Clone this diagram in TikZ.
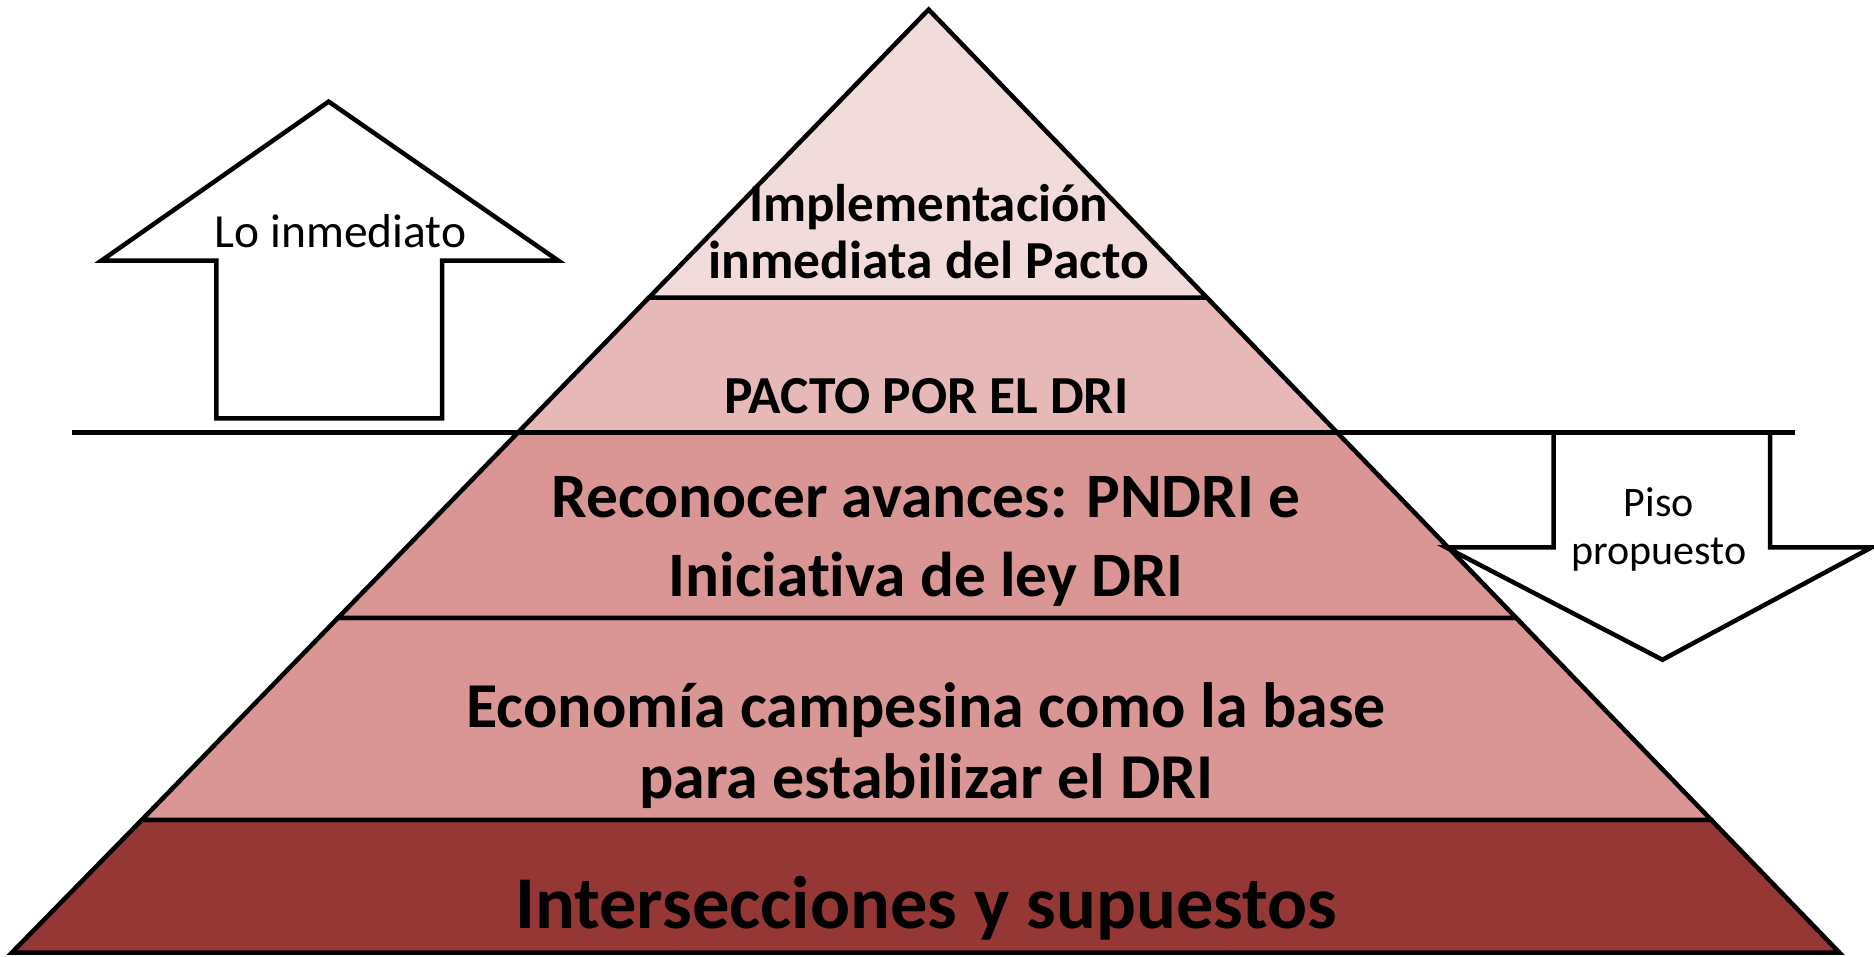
\documentclass[tikz,border=0pt]{standalone}
\usepackage{fontspec}
\setmainfont{Carlito}[Ligatures=NoCommon]
\definecolor{tierA}{HTML}{F2DCDB}
\definecolor{tierB}{HTML}{E6B9B8}
\definecolor{tierC}{HTML}{D99694}
\definecolor{tierD}{HTML}{953735}
\begin{document}
\begin{tikzpicture}[x=1.1952pt,y=-1.1952pt,line join=miter,
  tier/.style={draw=black,line width=4.5pt},
  outl/.style={draw=black,line width=4.5pt,fill=white},
  lbl/.style={anchor=base,inner sep=0pt,font=\bfseries},
  plain/.style={anchor=base,inner sep=0pt}]
\useasboundingbox (0,0) rectangle (1568,800);
% pyramid corner coordinates
\coordinate (apex) at (777,8);
\coordinate (l1) at (543.0,249); \coordinate (r1) at (1009.8,249);
\coordinate (l2) at (433.3,362); \coordinate (r2) at (1118.9,362);
\coordinate (l3) at (282.8,517); \coordinate (r3) at (1268.6,517);
\coordinate (l4) at (118.7,686); \coordinate (r4) at (1431.8,686);
\coordinate (l5) at (10,797);    \coordinate (r5) at (1539,797);
% tiers
\draw[tier,fill=tierD] (l4) -- (r4) -- (r5) -- (l5) -- cycle;
\draw[tier,fill=tierC] (l3) -- (r3) -- (r4) -- (l4) -- cycle;
\draw[tier,fill=tierC] (l2) -- (r2) -- (r3) -- (l3) -- cycle;
\draw[tier,fill=tierB] (l1) -- (r1) -- (r2) -- (l2) -- cycle;
\draw[tier,fill=tierA] (apex) -- (r1) -- (l1) -- cycle;
% floor line
\coordinate (fl) at (60,362); \coordinate (fr) at (1502,362);
\draw[line width=4.5pt] (fl) -- (fr);
% up arrow
\draw[outl] (275,85) -- (467,218) -- (370,218) -- (370,350) -- (181,350) -- (181,218) -- (85,218) -- cycle;
% down arrow
\draw[outl] (1300,362) -- (1300,458) -- (1210,458) -- (1391,552) -- (1566,458) -- (1481,458) -- (1481,362) -- cycle;
% texts
\node[lbl,font=\bfseries\fontsize{53}{57}\selectfont] (t1a) at (777,185) {Implementación};
\node[lbl,font=\bfseries\fontsize{53.5}{60}\selectfont] (t1b) at (777,233) {inmediata del Pacto};
\node[lbl,font=\bfseries\fontsize{53.5}{60}\selectfont] (t2) at (775,346) {PACTO POR EL DRI};
\node[lbl,font=\bfseries\fontsize{63.3}{80}\selectfont] (t3a) at (775,433) {Reconocer avances: PNDRI e};
\node[lbl,font=\bfseries\fontsize{63.3}{80}\selectfont] (t3b) at (775,499) {Iniciativa de ley DRI};
\node[lbl,font=\bfseries\fontsize{64}{72}\selectfont] (t4a) at (775,609) {Economía campesina como la base};
\node[lbl,font=\bfseries\fontsize{64}{72}\selectfont] (t4b) at (775,668) {para estabilizar el DRI};
\node[lbl,font=\bfseries\fontsize{74.5}{86}\selectfont] (t5) at (775,777) {Intersecciones y supuestos};
\node[plain,font=\fontsize{47.5}{56}\selectfont] (up) at (285,207) {Lo inmediato};
\node[plain,font=\fontsize{42}{50}\selectfont] (dna) at (1388,432) {Piso};
\node[plain,font=\fontsize{42}{50}\selectfont] (dnb) at (1388,472) {propuesto};
\end{tikzpicture}
\end{document}
